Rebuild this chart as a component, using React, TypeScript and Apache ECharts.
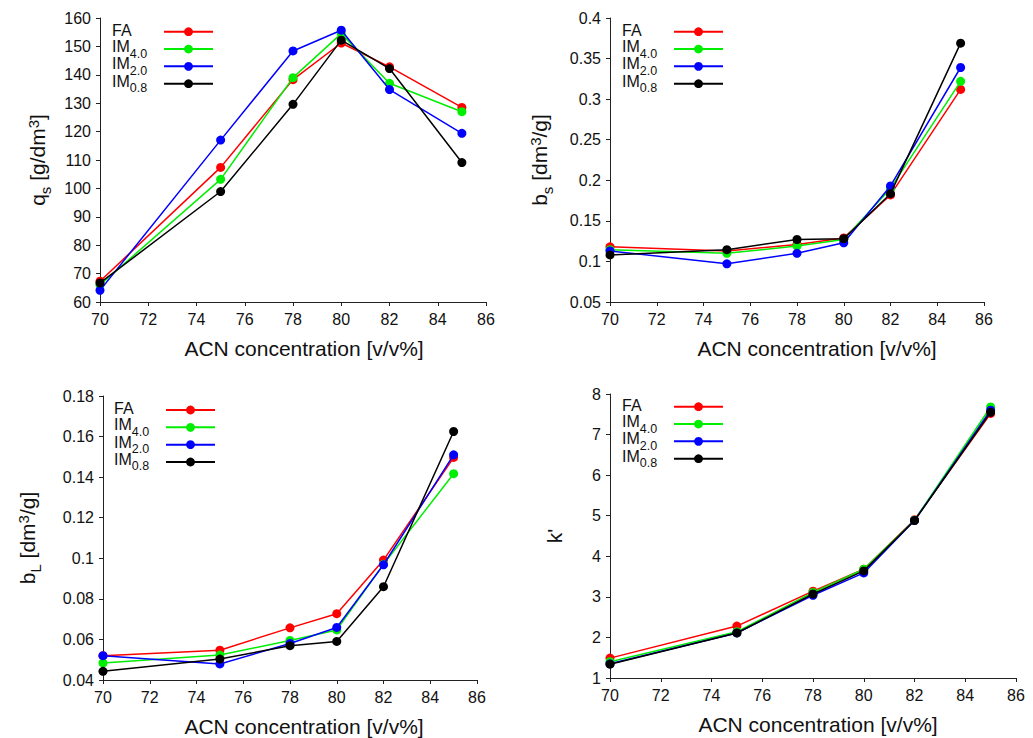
import React, { useEffect, useRef } from 'react';
import * as echarts from 'echarts';

// ---- data ----
const xConc = [70, 75, 78, 80, 82, 85];
const seriesNames = ['FA', 'IM4.0', 'IM2.0', 'IM0.8'];
const seriesColors = ['#ff0000', '#00ee00', '#0000ff', '#000000'];

const qsFA = [67.3, 107.4, 138.3, 151.2, 142.8, 128.5];
const qsIM40 = [66.0, 103.2, 139.0, 154.5, 137.0, 127.0];
const qsIM20 = [64.1, 117.0, 148.4, 155.7, 134.8, 119.4];
const qsIM08 = [66.7, 98.9, 129.6, 152.2, 142.2, 109.1];

const bsFA = [0.118, 0.113, 0.121, 0.129, 0.182, 0.312];
const bsIM40 = [0.1145, 0.11, 0.119, 0.127, 0.19, 0.322];
const bsIM20 = [0.113, 0.097, 0.11, 0.123, 0.193, 0.339];
const bsIM08 = [0.108, 0.1145, 0.127, 0.128, 0.1835, 0.369];

const bLFA = [0.052, 0.0547, 0.0657, 0.0727, 0.0991, 0.1497];
const bLIM40 = [0.0484, 0.0523, 0.0595, 0.0647, 0.097, 0.1417];
const bLIM20 = [0.052, 0.0479, 0.058, 0.0659, 0.0968, 0.151];
const bLIM08 = [0.0443, 0.0503, 0.0569, 0.059, 0.086, 0.1625];

const kFA = [1.49, 2.28, 3.14, 3.68, 4.9, 7.52];
const kIM40 = [1.4, 2.14, 3.11, 3.68, 4.89, 7.68];
const kIM20 = [1.35, 2.11, 3.04, 3.59, 4.88, 7.6];
const kIM08 = [1.34, 2.11, 3.07, 3.64, 4.88, 7.55];

const xTitle = 'ACN concentration [v/v%]';

const panels = [
  {
    data: [qsFA, qsIM40, qsIM20, qsIM08],
    yMin: 60, yMax: 160, yInterval: 10,
    yName: '{n|q}{sub|s}{n| [g/dm}{sup|3}{n|]}',
    grid: { left: 100, top: 18, width: 386, height: 284 },
    yNameGap: 51, xNamePad: 22,
    legend: { left: 112, firstRow: 31.7 },
  },
  {
    data: [bsFA, bsIM40, bsIM20, bsIM08],
    yMin: 0.05, yMax: 0.4, yInterval: 0.05,
    yName: '{n|b}{sub|s}{n| [dm}{sup|3}{n|/g]}',
    grid: { left: 610, top: 18, width: 374, height: 284 },
    yNameGap: 59, xNamePad: 40,
    legend: { left: 622, firstRow: 31.7 },
  },
  {
    data: [bLFA, bLIM40, bLIM20, bLIM08],
    yMin: 0.04, yMax: 0.18, yInterval: 0.02,
    yName: '{n|b}{sub|L}{n| [dm}{sup|3}{n|/g]}',
    grid: { left: 103, top: 396, width: 374, height: 285 },
    yNameGap: 64, xNamePad: 28,
    legend: { left: 114, firstRow: 410 },
  },
  {
    data: [kFA, kIM40, kIM20, kIM08],
    yMin: 1, yMax: 8, yInterval: 1,
    yName: "{n|k'}",
    grid: { left: 610, top: 394, width: 406, height: 284 },
    yNameGap: 44, xNamePad: 10,
    legend: { left: 622, firstRow: 406.7 },
  },
];

const FONT = '"Liberation Sans", Arial, Helvetica, sans-serif';
const LEG_LH = 17.3;
const ROW_STEP = 17.33;

export default function App() {
  const ref = useRef<HTMLDivElement>(null);
  useEffect(() => {
    if (!ref.current) return;
    const chart = echarts.init(ref.current, undefined, { renderer: 'svg' });

    const grids: any[] = [];
    const xAxes: any[] = [];
    const yAxes: any[] = [];
    const series: any[] = [];
    const legends: any[] = [];

    panels.forEach((p, i) => {
      grids.push({ ...p.grid, containLabel: false });
      xAxes.push({
        type: 'value',
        gridIndex: i,
        min: 70,
        max: 86,
        interval: 2,
        name: xTitle,
        nameLocation: 'middle',
        nameGap: 36,
        nameTextStyle: { fontFamily: FONT, fontSize: 21, color: '#111', padding: [0, 0, 0, p.xNamePad] },
        axisLine: { show: true, onZero: false, lineStyle: { color: '#222', width: 1 } },
        axisTick: { show: true, inside: false, length: 4, lineStyle: { color: '#222' } },
        axisLabel: { fontFamily: FONT, fontSize: 16, color: '#111', margin: 9 },
        splitLine: { show: false },
      });
      yAxes.push({
        type: 'value',
        gridIndex: i,
        min: p.yMin,
        max: p.yMax,
        interval: p.yInterval,
        name: p.yName,
        nameLocation: 'middle',
        nameGap: p.yNameGap,
        nameTextStyle: {
          fontFamily: FONT,
          color: '#111',
          rich: {
            n: { fontFamily: FONT, fontSize: 21, height: 21, lineHeight: 24, color: '#111' },
            sub: {
              fontFamily: FONT, fontSize: 15, height: 15, lineHeight: 24,
              verticalAlign: 'top', padding: [13, 0, 0, 0], color: '#111',
            },
            sup: {
              fontFamily: FONT, fontSize: 15, height: 15, lineHeight: 24,
              verticalAlign: 'top', padding: [1, 0, 0, 0], color: '#111',
            },
          },
        },
        axisLine: { show: true, onZero: false, lineStyle: { color: '#222', width: 1 } },
        axisTick: { show: true, inside: false, length: 4, lineStyle: { color: '#222' } },
        axisLabel: {
          fontFamily: FONT,
          fontSize: 16,
          color: '#111',
          margin: 9,
          formatter: (v: number) => String(parseFloat(v.toFixed(3))),
        },
        splitLine: { show: false },
      });
      seriesNames.forEach((name, k) => {
        series.push({
          type: 'line',
          name,
          xAxisIndex: i,
          yAxisIndex: i,
          data: xConc.map((x, j) => [x, p.data[k][j]]),
          symbol: 'circle',
          symbolSize: 9,
          showSymbol: true,
          lineStyle: { color: seriesColors[k], width: 1.5 },
          itemStyle: { color: seriesColors[k] },
          z: 2 + k,
        });
        // one legend entry per row, so each row sits exactly where the reference has it
        const rowCenter = p.legend.firstRow + k * ROW_STEP;
        const isFA = name === 'FA';
        legends.push({
          orient: 'vertical',
          left: p.legend.left,
          top: rowCenter - (isFA ? 9.5 : 10.5),
          align: 'right',
          itemWidth: 49,
          itemHeight: 11,
          itemGap: 0,
          padding: 0,
          data: [name],
          formatter: (nm: string) =>
            nm === 'FA' ? '{n|FA}' : `{m|IM}{s|${nm.slice(2)}}`,
          textStyle: {
            width: 47,
            fontFamily: FONT,
            color: '#111',
            rich: {
              n: {
                fontFamily: FONT, fontSize: 16, height: 14.3, lineHeight: LEG_LH,
                verticalAlign: 'top', align: 'left', color: '#111',
              },
              m: {
                fontFamily: FONT, fontSize: 16, height: 12.3, lineHeight: LEG_LH,
                verticalAlign: 'top', align: 'left', color: '#111',
              },
              s: {
                fontFamily: FONT, fontSize: 12.5, height: 8.3, lineHeight: LEG_LH,
                verticalAlign: 'bottom', align: 'left', color: '#111',
              },
            },
          },
        });
      });
    });

    chart.setOption({
      animation: false,
      backgroundColor: '#ffffff',
      grid: grids,
      xAxis: xAxes,
      yAxis: yAxes,
      legend: legends,
      series,
    });
    return () => chart.dispose();
  }, []);

  return (
    <div
      ref={ref}
      style={{ position: 'fixed', left: 0, top: 0, width: 1033, height: 738, background: '#fff' }}
    />
  );
}
